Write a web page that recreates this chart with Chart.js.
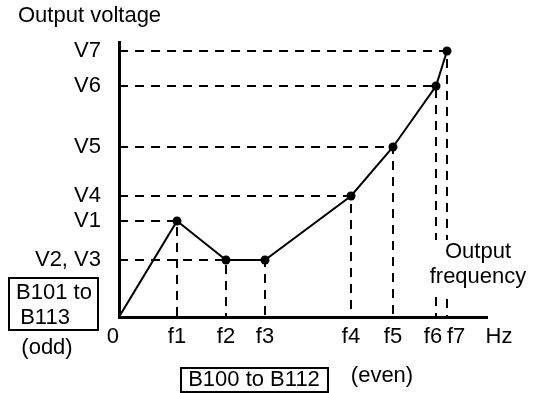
<!DOCTYPE html>
<html>
<head>
<meta charset="utf-8">
<script src="https://cdn.jsdelivr.net/npm/chart.js@4"></script>
<style>
  html, body { margin: 0; padding: 0; background: #fff; }
  #wrap { width: 536px; height: 393px; position: relative; }
</style>
</head>
<body>
<div id="wrap"><canvas id="vfChart"></canvas></div>
<script>
// V/f curve points (arbitrary units)
const freqLabels = ['0  ', 'f1', 'f2', 'f3', 'f4', 'f5', 'f6 ', '   f7'];
const freqs = [0, 58, 107, 146, 232, 274, 317, 328];
const volts = [0, 96, 57, 57, 121, 170, 231, 266];

const voltTicks = [57, 96, 121, 170, 231, 266];
const voltLabels = ['V2, V3', 'V1', 'V4', 'V5', 'V6', 'V7'];

const freqMax = 368;
const voltMax = 275;

const FONT = 'Liberation Sans, Arial, Helvetica, sans-serif';
Chart.defaults.font.family = FONT;
Chart.defaults.font.size = 22;
Chart.defaults.color = '#000';

const curve = freqs.map((f, i) => ({ x: f, y: volts[i] }));

// dashed guide lines from each point to both axes
const guides = [];
for (let i = 1; i < freqs.length; i++) {
  guides.push({
    data: [{ x: 0, y: volts[i] }, { x: freqs[i], y: volts[i] }, { x: freqs[i], y: 0 }],
    borderColor: '#000',
    borderWidth: 2,
    borderDash: [9, 7],
    pointRadius: 0,
    fill: false,
    tension: 0
  });
}

// extra labels, boxes and the text that sits over the guide lines
const annotations = {
  id: 'annotations',
  afterDatasetsDraw(chart) {
    const ctx = chart.ctx;
    ctx.save();
    ctx.fillStyle = '#000';
    ctx.font = '22px ' + FONT;
    ctx.textBaseline = 'middle';

    ctx.textAlign = 'left';
    ctx.fillText('Output voltage', 18, 16);

    // white patch behind "Output frequency"
    ctx.fillStyle = '#fff';
    ctx.fillRect(428, 240, 106, 52);
    ctx.fillStyle = '#000';
    ctx.textAlign = 'center';
    ctx.fillText('Output', 478, 252);
    ctx.fillText('frequency', 478, 277);

    ctx.fillText('Hz', 499, 337);

    // odd box
    ctx.lineWidth = 2;
    ctx.strokeStyle = '#000';
    ctx.strokeRect(9, 278, 89, 52);
    ctx.fillText('B101 to', 54, 293);
    ctx.fillText('B113', 45, 318);
    ctx.fillText('(odd)', 47, 348);

    // even box
    ctx.strokeRect(181, 368, 147, 24);
    ctx.fillText('B100 to B112', 254, 380);
    ctx.fillText('(even)', 382, 376);
    ctx.restore();
  }
};

new Chart(document.getElementById('vfChart'), {
  type: 'line',
  data: {
    datasets: [
      {
        data: curve,
        borderColor: '#000',
        borderWidth: 2,
        pointRadius: curve.map((p, i) => (i === 0 ? 0 : 4.5)),
        pointBackgroundColor: '#000',
        pointBorderWidth: 0,
        fill: false,
        tension: 0
      },
      ...guides
    ]
  },
  options: {
    responsive: true,
    maintainAspectRatio: false,
    animation: false,
    devicePixelRatio: 1,
    layout: { padding: { top: 42, right: 49, left: 0, bottom: 0 } },
    plugins: {
      legend: { display: false },
      tooltip: { enabled: false }
    },
    scales: {
      x: {
        type: 'linear',
        min: 0,
        max: freqMax,
        grid: { display: false, drawTicks: false },
        border: { display: true, color: '#000', width: 3 },
        afterBuildTicks: (s) => { s.ticks = freqs.map(v => ({ value: v })); },
        afterFit: (s) => { s.height = 76; },
        ticks: {
          autoSkip: false,
          maxRotation: 0,
          padding: 7,
          callback: (v, i) => freqLabels[i]
        }
      },
      y: {
        type: 'linear',
        min: 0,
        max: voltMax,
        grid: { display: false, drawTicks: false },
        border: { display: true, color: '#000', width: 3 },
        afterBuildTicks: (s) => { s.ticks = voltTicks.map(v => ({ value: v })); },
        afterFit: (s) => { s.width = 119; },
        ticks: {
          autoSkip: false,
          padding: 18,
          callback: (v, i) => voltLabels[i]
        }
      }
    }
  },
  plugins: [annotations]
});
</script>
</body>
</html>
